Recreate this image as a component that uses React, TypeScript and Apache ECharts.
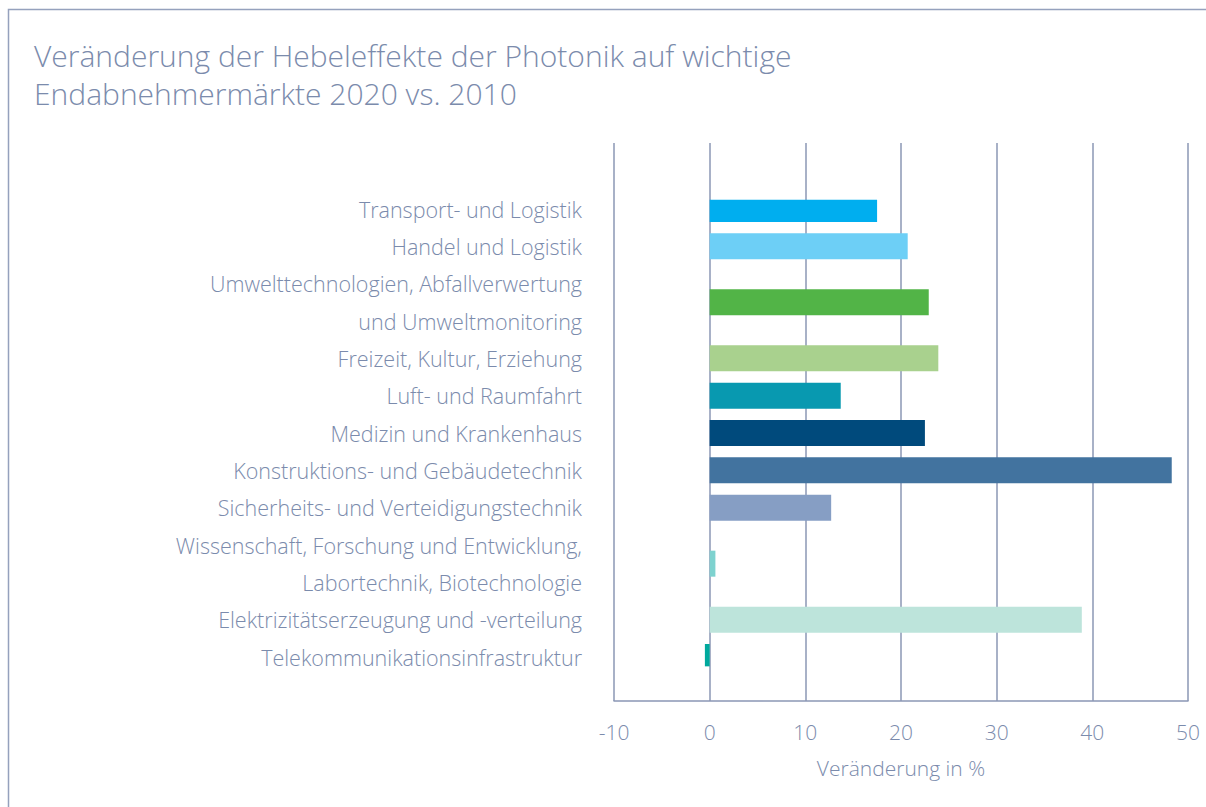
import React, { useEffect, useRef } from "react";
import * as echarts from "echarts";

const categories: string[][] = [
  ["Transport- und Logistik"],
  ["Handel und Logistik"],
  ["Umwelttechnologien, Abfallverwertung", "und Umweltmonitoring"],
  ["Freizeit, Kultur, Erziehung"],
  ["Luft- und Raumfahrt"],
  ["Medizin und Krankenhaus"],
  ["Konstruktions- und Gebäudetechnik"],
  ["Sicherheits- und Verteidigungstechnik"],
  ["Wissenschaft, Forschung und Entwicklung,", "Labortechnik, Biotechnologie"],
  ["Elektrizitätserzeugung und -verteilung"],
  ["Telekommunikationsinfrastruktur"],
];
const values = [17.5, 20.7, 22.9, 23.9, 13.7, 22.5, 48.3, 12.7, 0.6, 38.9, -0.5];
const colors = [
  "#00aeef", "#6dcff6", "#52b447", "#a9d18e", "#0899b0", "#004a7c",
  "#42739f", "#869ec4", "#7ed2cf", "#bde4db", "#00a99d",
];
const xTicks = { min: -10, max: 50, interval: 10 };
const title = "Veränderung der Hebeleffekte der Photonik auf wichtige\nEndabnehmermärkte 2020 vs. 2010";
const xName = "Veränderung in %";

const FONT = "Open Sans";
const TXT = "#7b8bac";
const LINE = "#8b97b5";

export default function App() {
  const ref = useRef<HTMLDivElement>(null);
  useEffect(() => {
    if (!ref.current) return;
    const chart = echarts.init(ref.current, undefined, { renderer: "svg" });

    const slotLabels: string[] = [];
    const slotValues: any[] = [];
    let row = 0;
    const barSlot: number[] = [];
    categories.forEach((lines) => {
      const center = row + (lines.length - 1) / 2;
      barSlot.push(Math.round(center * 2));
      row += lines.length;
    });
    const totalSlots = (row - 1) * 2 + 1;
    for (let s = 0; s < totalSlots; s++) {
      slotLabels.push("s" + s);
      slotValues.push(null);
    }
    const lineTexts: string[] = [];
    categories.forEach((lines) => lines.forEach((l) => lineTexts.push(l)));
    barSlot.forEach((s, i) => {
      slotValues[s] = { value: values[i], itemStyle: { color: colors[i] } };
    });

    const slotH = 18.667;
    const firstCenter = 209;
    const top = firstCenter - slotH / 2;
    const bottom = 807 - (top + totalSlots * slotH);

    chart.setOption({
      animation: false,
      title: {
        text: title,
        left: 29,
        top: 31,
        textStyle: {
          fontFamily: FONT,
          fontWeight: 300,
          fontSize: 30,
          color: TXT,
          lineHeight: 38,
        },
      },
      graphic: [
        {
          type: "polyline",
          shape: { points: [[1206, 9.5], [8.5, 9.5], [8.5, 807]] },
          style: { stroke: "#95a1bd", lineWidth: 1.5, fill: null },
        },
      ],
      grid: [
        { left: 614, right: 18, top: 143, bottom: 106 },
        { left: 614, right: 18, top: top, bottom: bottom },
      ],
      xAxis: [
        {
          gridIndex: 0,
          type: "value",
          min: xTicks.min,
          max: xTicks.max,
          interval: xTicks.interval,
          axisLine: { show: true, lineStyle: { color: LINE, width: 1.5 } },
          axisTick: { show: false },
          splitLine: { show: true, lineStyle: { color: LINE, width: 1.5 } },
          axisLabel: { fontFamily: FONT, fontWeight: 300, fontSize: 21, color: TXT, margin: 20 },
          name: xName,
          nameLocation: "middle",
          nameGap: 56,
          nameTextStyle: { fontFamily: FONT, fontWeight: 300, fontSize: 21, color: TXT },
        },
        {
          gridIndex: 1,
          type: "value",
          min: xTicks.min,
          max: xTicks.max,
          interval: xTicks.interval,
          show: false,
        },
      ],
      yAxis: [
        { gridIndex: 0, type: "value", show: false },
        {
          gridIndex: 1,
          type: "category",
          inverse: true,
          data: slotLabels,
          axisLine: { show: false },
          axisTick: { show: false },
          splitLine: { show: false },
          axisLabel: {
            interval: 0,
            margin: 32,
            fontFamily: FONT,
            fontWeight: 300,
            fontSize: 21.5,
            color: TXT,
            formatter: (_v: string, idx: number) => (idx % 2 === 0 ? lineTexts[idx / 2] : ""),
          },
        },
      ],
      series: [
        {
          type: "bar",
          xAxisIndex: 1,
          yAxisIndex: 1,
          barWidth: 26,
          data: slotValues,
        },
      ],
    });
    return () => chart.dispose();
  }, []);
  return (
    <div
      ref={ref}
      style={{ position: "fixed", left: 0, top: 0, width: 1206, height: 807, background: "#fff" }}
    />
  );
}
